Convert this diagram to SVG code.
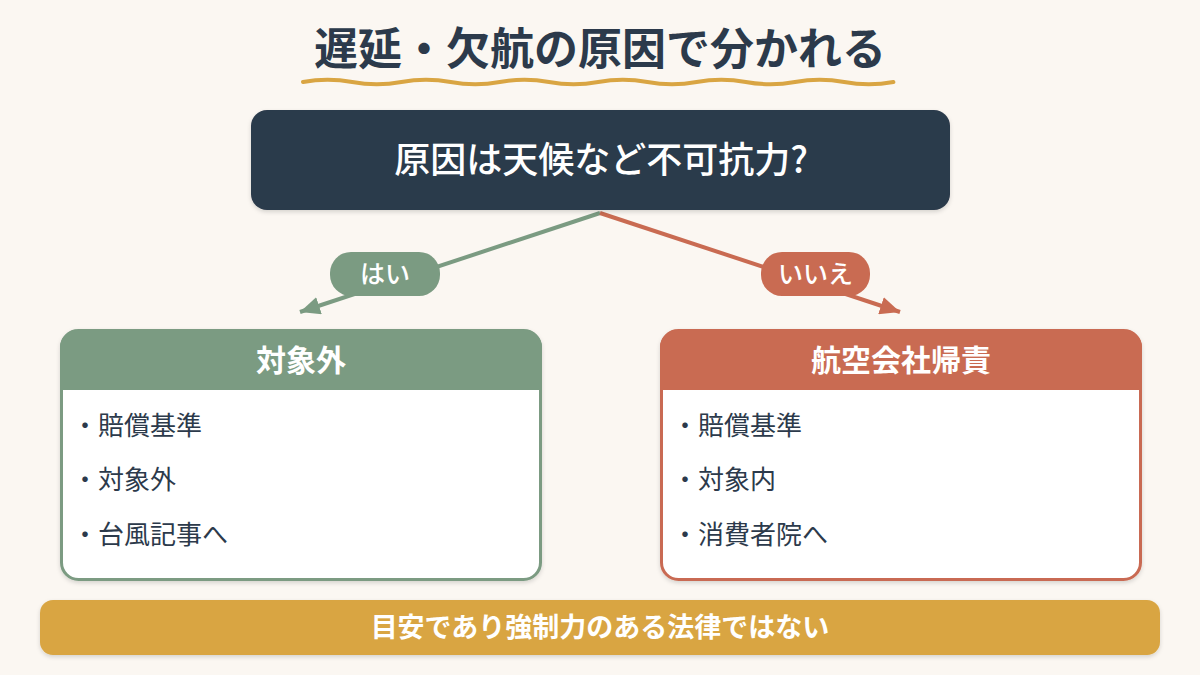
<svg xmlns="http://www.w3.org/2000/svg" width="1200" height="675" viewBox="0 0 1200 675">
  <defs>
    <style>
      text { font-family: "Noto Sans CJK JP", "Noto Sans", sans-serif; }
      .title { font-size: 44px; font-weight: 700; fill: #2C3A4B; }
      .q { font-size: 36px; font-weight: 500; fill: #FFFFFF; }
      .pill { font-size: 25px; font-weight: 500; fill: #FFFFFF; }
      .head { font-size: 30px; font-weight: 700; fill: #FFFFFF; }
      .item { font-size: 26px; font-weight: 400; fill: #2C3A4B; }
      .note { font-size: 27px; font-weight: 700; fill: #FFFFFF; }
      .green { stroke: #7B9B82; }
      .red { stroke: #C96B52; }
    </style>
    <filter id="sh" x="-5%" y="-10%" width="110%" height="130%">
      <feDropShadow dx="0" dy="2" stdDeviation="2" flood-color="#000" flood-opacity="0.15"/>
    </filter>
    <marker id="ahG" markerUnits="userSpaceOnUse" markerWidth="22" markerHeight="18" refX="20" refY="9" orient="auto">
      <path d="M0,0 L20,9 L0,18 Z" fill="#7B9B82"/>
    </marker>
    <marker id="ahR" markerUnits="userSpaceOnUse" markerWidth="22" markerHeight="18" refX="20" refY="9" orient="auto">
      <path d="M0,0 L20,9 L0,18 Z" fill="#C96B52"/>
    </marker>
  </defs>

  <rect width="1200" height="675" fill="#FBF7F2"/>

  <g id="title">
    <text class="title" x="600" y="65" text-anchor="middle">遅延・欠航の原因で分かれる</text>
    <path d="M303,82 q24.6,-4.5 49.2,0 t49.2,0 t49.2,0 t49.2,0 t49.2,0 t49.2,0 t49.2,0 t49.2,0 t49.2,0 t49.2,0 t49.2,0 t49.2,0" fill="none" stroke="#D9A543" stroke-width="4" stroke-linecap="round"/>
  </g>

  <g id="connectors">
    <line x1="600" y1="213" x2="300" y2="312" class="green" stroke-width="4" marker-end="url(#ahG)"/>
    <line x1="600" y1="213" x2="900" y2="312" class="red" stroke-width="4" marker-end="url(#ahR)"/>
  </g>

  <g id="question">
    <rect x="251" y="110" width="699" height="100" rx="16" fill="#2C3A4B" filter="url(#sh)"/>
    <text class="q" x="601" y="173" text-anchor="middle">原因は天候など不可抗力?</text>
  </g>

  <g id="label-yes">
    <rect x="330" y="252" width="110" height="44" rx="21" fill="#7B9B82"/>
    <text class="pill" x="385" y="283" text-anchor="middle">はい</text>
  </g>

  <g id="label-no">
    <rect x="761" y="252" width="109" height="44" rx="21" fill="#C96B52"/>
    <text class="pill" x="815.5" y="283" text-anchor="middle">いいえ</text>
  </g>

  <g id="card-left">
    <rect x="61.5" y="330.5" width="479" height="249" rx="17" fill="#FFFFFF" stroke="#7B9B82" stroke-width="3" filter="url(#sh)"/>
    <path d="M60,390 V347 a17,17 0 0 1 17,-17 H525 a17,17 0 0 1 17,17 V390 Z" fill="#7B9B82"/>
    <text class="head" x="301" y="371" text-anchor="middle">対象外</text>
    <text class="item" x="72" y="435">・賠償基準</text>
    <text class="item" x="72" y="489">・対象外</text>
    <text class="item" x="72" y="544">・台風記事へ</text>
  </g>

  <g id="card-right">
    <rect x="661.5" y="330.5" width="479" height="249" rx="17" fill="#FFFFFF" stroke="#C96B52" stroke-width="3" filter="url(#sh)"/>
    <path d="M660,390 V347 a17,17 0 0 1 17,-17 H1125 a17,17 0 0 1 17,17 V390 Z" fill="#C96B52"/>
    <text class="head" x="901" y="371" text-anchor="middle">航空会社帰責</text>
    <text class="item" x="672" y="435">・賠償基準</text>
    <text class="item" x="672" y="489">・対象内</text>
    <text class="item" x="672" y="544">・消費者院へ</text>
  </g>

  <g id="note">
    <rect x="40" y="600" width="1120" height="55" rx="13" fill="#D9A543" filter="url(#sh)"/>
    <text class="note" x="600" y="637" text-anchor="middle">目安であり強制力のある法律ではない</text>
  </g>
</svg>
